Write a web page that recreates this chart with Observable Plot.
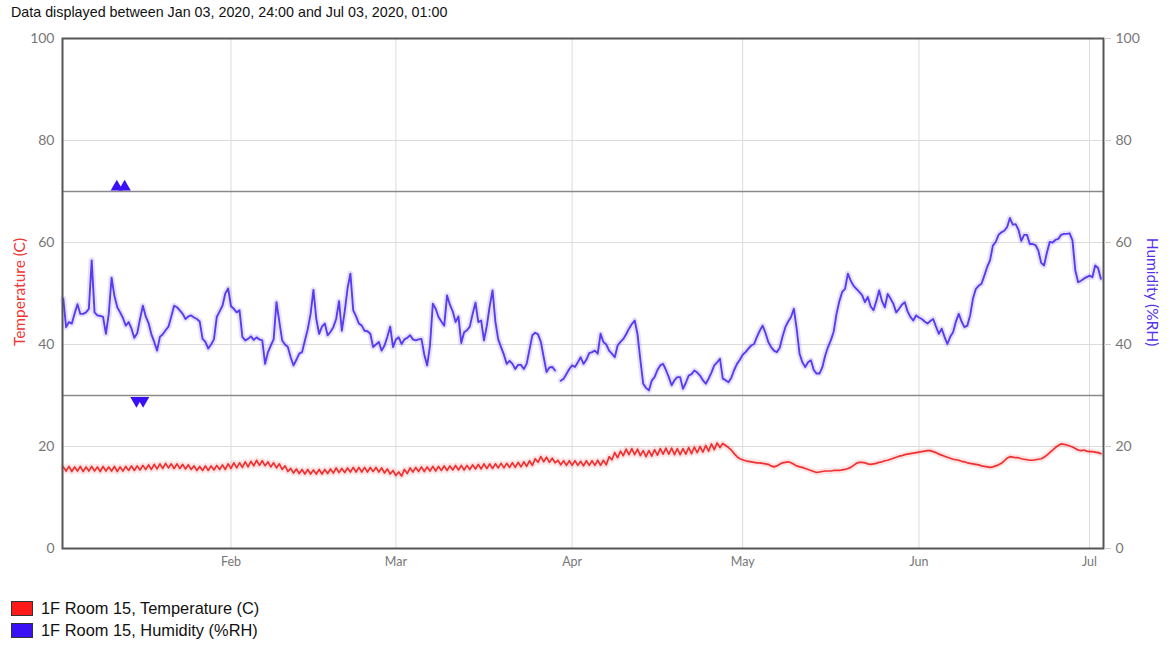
<!DOCTYPE html>
<html><head><meta charset="utf-8">
<script src="https://cdn.jsdelivr.net/npm/d3@7"></script>
<script src="https://cdn.jsdelivr.net/npm/@observablehq/plot@0.6"></script>
<style>
body{margin:0;background:#fff;font-family:"Liberation Sans",Arial,sans-serif;}
#sub{position:absolute;left:11px;top:4px;font-size:14.3px;color:#111;white-space:nowrap;}
#chart{position:absolute;left:0;top:25px;}
#legend{position:absolute;left:11px;top:597px;font-size:16.4px;color:#111;}
.item{display:flex;align-items:center;height:22px;}
.sw{width:20px;height:13px;border:1px solid #333;margin-right:8px;}
</style></head><body>
<div id="sub">Data displayed between Jan 03, 2020, 24:00 and Jul 03, 2020, 01:00</div>
<div id="chart"></div>
<div id="legend"></div>
<script>
// ---- data (12-hour readings starting 2020-01-02 12:00 UTC) ----
const seriesStart = "2020-01-02T12:00Z";
const stepHours = 12;
const humidity = [
49.0,43.4,44.4,44.1,46.1,47.9,46.0,46.0,46.3,47.0,
56.5,46.3,45.7,45.6,45.4,42.1,46.0,53.1,49.5,47.3,
46.3,45.2,43.7,44.4,43.1,41.3,42.2,45.0,47.6,45.5,
44.2,42.0,40.5,38.8,41.5,42.0,42.8,43.5,45.5,47.6,
47.3,46.7,46.0,45.0,45.5,45.7,45.3,45.0,44.5,41.1,
40.5,39.2,40.0,41.0,45.4,46.5,47.6,50.0,51.0,47.5,
47.0,46.3,46.7,41.5,40.8,41.1,41.6,40.9,41.4,41.0,
40.8,36.2,38.5,39.8,41.0,48.3,44.5,40.8,40.0,39.5,
37.5,35.9,37.0,38.2,38.5,40.8,43.0,46.0,50.7,45.0,
42.1,43.5,44.1,41.8,42.5,43.4,45.0,48.5,42.7,46.5,
51.0,53.9,46.7,45.5,44.1,43.7,42.7,42.6,42.1,39.5,
40.0,40.5,38.8,39.8,41.5,43.5,39.5,41.0,41.4,40.1,
41.0,41.3,41.8,41.0,40.8,41.0,41.1,38.0,35.9,39.8,
48.0,47.0,45.4,44.5,43.7,49.6,47.8,46.5,44.4,45.5,
40.3,42.4,42.8,43.5,46.0,48.2,44.4,44.7,40.8,43.7,
47.5,50.6,44.5,41.0,39.5,38.0,36.2,36.8,36.2,35.2,
36.0,36.0,35.2,36.2,39.0,41.8,42.3,42.0,40.5,37.5,
34.6,35.5,35.6,34.9,null,32.9,33.3,34.2,35.2,35.9,
35.6,36.5,37.5,36.2,37.0,38.3,38.5,38.8,38.2,42.1,
40.5,40.0,38.8,38.2,37.5,39.8,40.5,41.1,42.0,43.1,
44.0,44.7,42.0,37.0,32.3,31.5,31.0,32.9,33.6,35.0,
35.9,36.2,35.0,33.6,32.0,33.0,33.6,33.6,31.3,32.5,
33.9,34.2,34.9,34.5,33.9,33.0,32.3,33.3,34.5,35.9,
36.5,37.2,33.3,33.0,32.6,33.5,35.0,36.2,37.0,38.0,
38.5,39.2,39.8,40.1,41.5,42.7,43.7,42.3,40.5,39.5,
38.8,38.5,39.3,41.5,43.4,44.5,45.4,47.0,43.0,38.2,
36.5,35.6,36.5,36.9,35.0,34.3,34.3,35.5,37.8,39.5,
40.8,42.5,46.0,48.5,50.3,50.9,53.9,52.5,51.5,50.9,
50.3,49.7,48.3,49.3,47.5,46.7,48.5,50.6,48.5,47.3,
49.9,49.0,48.0,46.3,47.0,47.8,48.3,46.5,45.4,44.7,
45.7,45.3,45.0,44.5,44.1,44.6,45.0,43.5,42.1,43.1,
41.5,40.1,41.5,42.4,44.5,46.0,44.5,43.4,43.7,45.7,
49.0,50.9,51.5,51.9,53.5,55.2,56.5,59.4,60.1,61.5,
62.0,62.3,63.0,64.8,63.5,63.6,62.5,60.3,61.5,61.5,
59.7,59.7,59.5,58.4,56.0,55.5,58.0,60.1,60.0,60.5,
60.7,61.5,61.7,61.7,61.8,60.4,54.5,52.2,52.5,52.9,
53.2,53.5,53.2,55.5,55.0,52.9
];
const temperature = [
16.0,15.2,16.1,15.1,16.0,15.2,16.1,15.1,16.0,15.2,
16.1,15.2,16.0,15.1,16.1,15.2,16.0,15.2,16.1,15.1,
16.0,15.2,16.1,15.3,16.2,15.3,16.2,15.4,16.3,15.5,
16.4,15.5,16.5,15.6,16.6,15.7,16.7,15.8,16.6,15.7,
16.6,15.7,16.5,15.6,16.4,15.5,16.2,15.3,16.1,15.3,
16.2,15.3,16.2,15.4,16.3,15.5,16.4,15.5,16.6,15.7,
16.8,15.8,16.8,15.9,17.0,16.0,17.1,16.2,17.3,16.3,
17.2,16.2,17.0,16.0,16.8,15.8,16.6,15.5,16.2,15.1,
15.7,14.8,15.6,14.7,15.5,14.6,15.5,14.6,15.4,14.6,
15.5,14.6,15.5,14.7,15.6,14.8,15.8,14.9,15.7,14.9,
15.8,15.0,15.9,15.0,15.9,15.0,15.9,15.0,15.9,15.1,
15.9,15.0,15.8,14.8,15.6,14.6,15.3,14.3,15.0,14.2,
15.5,14.7,15.8,15.0,15.9,15.1,16.0,15.1,16.0,15.2,
16.1,15.2,16.1,15.3,16.2,15.3,16.2,15.4,16.3,15.4,
16.3,15.4,16.3,15.5,16.4,15.6,16.5,15.6,16.6,15.7,
16.6,15.7,16.6,15.8,16.7,15.8,16.7,15.9,16.8,15.9,
16.9,16.0,17.0,16.1,17.2,16.3,17.6,16.9,18.0,17.0,
17.9,16.9,17.7,16.8,17.3,16.4,17.2,16.3,17.2,16.3,
17.2,16.3,17.1,16.2,17.2,16.3,17.2,16.3,17.3,16.3,
17.3,16.4,18.0,17.4,18.8,17.8,19.1,18.2,19.5,18.4,
19.6,18.4,19.5,18.2,19.2,18.0,19.2,18.1,19.4,18.3,
19.6,18.5,19.7,18.5,19.7,18.4,19.6,18.4,19.6,18.5,
19.8,18.6,19.9,18.8,20.0,18.9,20.2,19.1,20.5,19.4,
20.7,19.8,20.6,20.2,19.8,19.3,18.6,18.0,17.6,17.4,
17.2,17.1,17.0,16.9,16.8,16.8,16.7,16.6,16.5,16.2,
16.0,16.2,16.5,16.8,16.9,17.0,16.8,16.5,16.2,16.0,
15.9,15.7,15.5,15.3,15.1,14.9,15.0,15.1,15.2,15.2,
15.2,15.3,15.3,15.3,15.4,15.5,15.7,15.9,16.3,16.7,
16.9,16.9,16.8,16.6,16.5,16.6,16.7,16.9,17.0,17.2,
17.3,17.5,17.7,17.9,18.1,18.2,18.4,18.5,18.6,18.7,
18.8,18.9,19.0,19.1,19.2,19.2,19.0,18.8,18.5,18.3,
18.1,17.9,17.7,17.5,17.4,17.3,17.1,17.0,16.8,16.7,
16.6,16.5,16.4,16.2,16.1,16.0,15.9,16.0,16.2,16.4,
16.7,17.2,17.7,18.0,17.9,17.8,17.8,17.6,17.5,17.4,
17.3,17.3,17.4,17.5,17.6,17.9,18.3,18.8,19.3,19.8,
20.2,20.5,20.4,20.3,20.1,19.9,19.6,19.3,19.2,19.3,
19.1,19.0,19.0,18.9,18.8,18.6
];
const alarmHighDates = ["2020-01-11T22:00Z","2020-01-13T07:00Z"];
const alarmLowDates = ["2020-01-15T09:00Z","2020-01-16T13:00Z"];
const alarmHigh = 70, alarmLow = 30;
const yTicks = [0,20,40,60,80,100];
const monthTicks = ["2020-02-01","2020-03-01","2020-04-01","2020-05-01","2020-06-01","2020-07-01"];
const xDomain = ["2020-01-02T08:45Z","2020-07-03T11:00Z"];
const seriesNames = ["1F Room 15, Temperature (C)","1F Room 15, Humidity (%RH)"];
const seriesColors = ["#ff1a1a","#3a10f5"];

// ---- build tables ----
const t0 = new Date(seriesStart).getTime();
const stepMs = stepHours*3600e3;
const tempRows = temperature.map((v,i)=>({date:new Date(t0+i*stepMs), v}));
const humRows = humidity.map((v,i)=>({date:new Date(t0+i*stepMs), v}));
const highRows = alarmHighDates.map(d=>({date:new Date(d), v:alarmHigh}));
const lowRows = alarmLowDates.map(d=>({date:new Date(d), v:alarmLow}));
const mTicks = monthTicks.map(d=>new Date(d+"T00:00Z"));

const tempColor = "#f03030", humColor = "#5a3cf0";

const svg = Plot.plot({
  width:1172, height:560,
  marginLeft:62, marginRight:69, marginTop:13, marginBottom:37,
  style:{fontFamily:"Lato, 'Open Sans', sans-serif", fontSize:"13px", color:"#777", background:"#fff"},
  x:{type:"utc", domain:xDomain.map(d=>new Date(d))},
  y:{domain:[0,100]},
  marks:[
    Plot.gridY(yTicks,{stroke:"#dcdcdc", strokeOpacity:1}),
    Plot.gridX(mTicks,{stroke:"#dcdcdc", strokeOpacity:1}),
    Plot.ruleY([alarmHigh, alarmLow],{stroke:"#8a8a8a", strokeWidth:1.5}),
    Plot.line(tempRows,{x:"date", y:"v", stroke:tempColor, strokeOpacity:0.13, strokeWidth:6}),
    Plot.line(tempRows,{x:"date", y:"v", stroke:tempColor, strokeWidth:1.7}),
    Plot.line(humRows,{x:"date", y:"v", stroke:humColor, strokeOpacity:0.15, strokeWidth:6}),
    Plot.line(humRows,{x:"date", y:"v", stroke:humColor, strokeWidth:1.9}),
    Plot.dot(highRows,{x:"date", y:"v", symbol:"triangle", fill:"#3a10f5", r:4.6, dy:-4.5}),
    Plot.dot(lowRows,{x:"date", y:"v", symbol:"triangle", rotate:180, fill:"#3a10f5", r:4.6, dy:5}),
    Plot.frame({stroke:"#555", strokeWidth:2}),
    Plot.axisY(yTicks,{anchor:"left", tickSize:0, tickPadding:8, label:null, fontSize:14}),
    Plot.axisY(yTicks,{anchor:"right", tickSize:7, tickPadding:5, label:null, fontSize:14, stroke:"#ccc"}),
    Plot.axisX(mTicks,{anchor:"bottom", tickSize:0, tickPadding:9, tickFormat:d3.utcFormat("%b"), label:null, fontSize:12.5})
  ]
});

const s = d3.select(svg);
s.append("text").attr("transform","translate(21,267) rotate(-90)")
  .attr("text-anchor","middle").attr("dominant-baseline","middle")
  .attr("fill","#f03535").style("font-size","15.5px").text("Temperature (C)");
s.append("text").attr("transform","translate(1151,267) rotate(90)")
  .attr("text-anchor","middle").attr("dominant-baseline","middle")
  .attr("fill","#5533ee").style("font-size","15.5px").text("Humidity (%RH)");
document.getElementById("chart").appendChild(svg);

const lg = document.getElementById("legend");
seriesNames.forEach((n,i)=>{
  const it = document.createElement("div"); it.className="item";
  const sw = document.createElement("div"); sw.className="sw"; sw.style.background=seriesColors[i];
  const tx = document.createElement("span"); tx.textContent=n;
  it.appendChild(sw); it.appendChild(tx); lg.appendChild(it);
});
</script>
</body></html>
